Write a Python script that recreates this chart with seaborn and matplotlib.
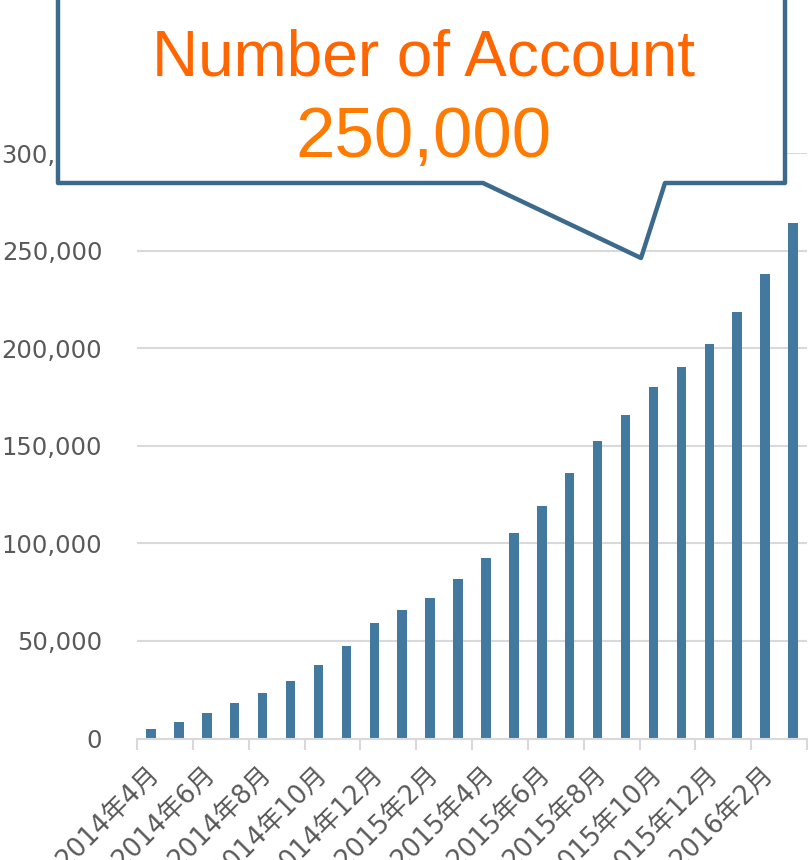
import seaborn as sns
import pandas as pd
import matplotlib.pyplot as plt
import matplotlib.transforms as mtransforms
from matplotlib.patches import Polygon

months = ["2014年4月", "2014年5月", "2014年6月", "2014年7月", "2014年8月",
          "2014年9月", "2014年10月", "2014年11月", "2014年12月", "2015年1月",
          "2015年2月", "2015年3月", "2015年4月", "2015年5月", "2015年6月",
          "2015年7月", "2015年8月", "2015年9月", "2015年10月", "2015年11月",
          "2015年12月", "2016年1月", "2016年2月", "2016年3月"]
accounts = [4800, 8600, 12900, 18000, 23300, 29700, 37800, 47500, 59300,
            65700, 71800, 81500, 92300, 105200, 119000, 136000, 152600,
            166000, 179900, 190500, 202100, 218700, 238000, 264000]
y_ticks = [0, 50000, 100000, 150000, 200000, 250000, 300000]
callout_title = "Number of Account"
callout_value = "250,000"

BAR = "#44799f"
GRID = "#d9d9d9"
TEXT = "#595959"
W, H = 808, 860

sns.set_theme(style="white")
plt.rcParams['font.family'] = ['DejaVu Sans', 'Noto Sans CJK JP']

df = pd.DataFrame({"month": months, "accounts": accounts})

fig = plt.figure(figsize=(W / 100, H / 100), dpi=100)
ax = fig.add_axes([137 / W, 1 - 738.5 / H, (807 - 137) / W, (738.5 - 153) / H])

sns.barplot(data=df, x="month", y="accounts", color=BAR, width=0.34,
            saturation=1, linewidth=0, ax=ax)

ax.set_xlim(-0.5, len(months) - 0.5)
ax.set_ylim(0, 300000)
ax.set_xlabel("")
ax.set_ylabel("")

# y axis
ax.set_yticks(y_ticks)
ax.set_yticklabels([f"{v:,}" for v in y_ticks], fontsize=17.5, color=TEXT)
ax.tick_params(axis="y", length=0, pad=25)
ax.yaxis.grid(True, color=GRID, linewidth=1.5)
ax.set_axisbelow(True)

# x axis: ticks between every 2 months, labels on every other month
ax.set_xticks([i - 0.5 for i in range(0, len(months) + 1, 2)])
ax.set_xticklabels([])
ax.tick_params(axis="x", which="major", length=8, width=1.5, color=GRID,
               direction="out", bottom=True)
ax.set_xticks(list(range(0, len(months), 2)), minor=True)
ax.set_xticklabels(months[::2], minor=True, rotation=45, ha="right",
                   rotation_mode="anchor", fontsize=18.5, color=TEXT)
ax.tick_params(axis="x", which="minor", length=0, pad=16)
shift = mtransforms.ScaledTranslation(-5 / 100, 0, fig.dpi_scale_trans)
for lbl in ax.get_xticklabels(minor=True):
    lbl.set_transform(lbl.get_transform() + shift)

for side in ["left", "right", "top"]:
    ax.spines[side].set_visible(False)
ax.spines["bottom"].set_color(GRID)
ax.spines["bottom"].set_linewidth(1.5)

# callout box
pts = [(58, -6), (785, -6), (785, 183), (665, 183), (641, 258),
       (483, 183), (58, 183)]
poly = Polygon([(x / W, 1 - y / H) for x, y in pts], closed=True,
               transform=fig.transFigure, facecolor="white",
               edgecolor="#3c6a8c", linewidth=3.2, joinstyle="round",
               zorder=10)
fig.add_artist(poly)
fig.text(423 / W, 1 - 76 / H, callout_title, ha="center", va="baseline",
         fontsize=46, color="#ff6600", family="Liberation Sans", zorder=11)
fig.text(423 / W, 1 - 157 / H, callout_value, ha="center", va="baseline",
         fontsize=51, color="#ff7a00", family="Liberation Sans", zorder=11)

fig.savefig("out.png", dpi=100)
